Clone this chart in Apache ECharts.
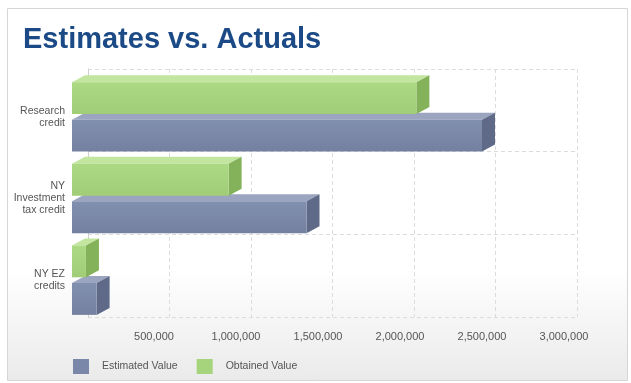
<!DOCTYPE html>
<html>
<head>
<meta charset="utf-8">
<script src="https://cdn.jsdelivr.net/npm/echarts@6.0.0/dist/echarts.min.js"></script>
<style>html,body{margin:0;padding:0;background:#fff}#c{width:631px;height:383px}</style>
</head>
<body>
<div id="c"></div>
<script>
const categories = ['Research\ncredit', 'NY\nInvestment\ntax credit', 'NY EZ\ncredits'];
const estimatedValue = [2500000, 1430000, 150000];
const obtainedValue = [2100000, 955000, 85000];
const seriesNames = ['Estimated Value', 'Obtained Value'];
const xTicks = { min: 0, max: 3000000, interval: 500000 };

const FONT = '"Liberation Sans", Arial, sans-serif';
const DX = 13, DY = -7;

function makeRender(pos, frontTop, frontBottom, top, side) {
  return function (params, api) {
    const cat = api.value(1), val = api.value(0);
    const p0 = api.coord([0, cat]);
    const p1 = api.coord([val, cat]);
    const band = api.size([0, 1])[1];
    const h = band * 0.39, gap = band * 0.035;
    let yt, yb;
    if (pos < 0) { yb = p0[1] - gap; yt = yb - h; } else { yt = p0[1] + gap; yb = yt + h; }
    const x0 = p0[0], x1 = p1[0];
    return {
      type: 'group',
      children: [
        { type: 'polygon', shape: { points: [[x0, yt], [x1, yt], [x1 + DX, yt + DY], [x0 + DX, yt + DY]] }, style: { fill: top } },
        { type: 'polygon', shape: { points: [[x1, yt], [x1 + DX, yt + DY], [x1 + DX, yb + DY], [x1, yb]] }, style: { fill: side } },
        { type: 'rect', shape: { x: x0, y: yt, width: x1 - x0, height: yb - yt },
          style: { fill: new echarts.graphic.LinearGradient(0, 0, 0, 1, [{ offset: 0, color: frontTop }, { offset: 1, color: frontBottom }]) } }
      ]
    };
  };
}

const chart = echarts.init(document.getElementById('c'), null, { renderer: 'canvas' });
chart.setOption({
  animation: false,
  backgroundColor: '#ffffff',
  graphic: [{
    type: 'rect', z: -100, silent: true,
    shape: { x: 7.5, y: 8.5, width: 620, height: 372 },
    style: {
      stroke: '#d6d6d6', lineWidth: 1,
      fill: new echarts.graphic.LinearGradient(0, 0, 0, 1, [
        { offset: 0, color: '#ffffff' }, { offset: 0.7, color: '#ffffff' }, { offset: 1, color: '#eaeaea' }
      ])
    }
  }],
  title: {
    text: 'Estimates vs. Actuals', left: 18, top: 20,
    textStyle: { fontSize: 29, fontWeight: 'bold', color: '#1b4a86', fontFamily: FONT }
  },
  legend: {
    data: seriesNames, left: 73, top: 359, itemWidth: 16, itemHeight: 15, itemGap: 19,
    icon: 'rect', padding: 0,
    textStyle: { fontSize: 10.5, color: '#555', fontFamily: FONT, padding: [0, 0, 0, 8] }
  },
  grid: [
    { left: 72, top: 76, width: 492, height: 245, containLabel: false },
    { left: 88, top: 69, width: 489, height: 248, containLabel: false }
  ],
  xAxis: [
    {
      gridIndex: 0, type: 'value', min: xTicks.min, max: xTicks.max, interval: xTicks.interval,
      axisLine: { show: false }, axisTick: { show: false }, splitLine: { show: false },
      axisLabel: {
        showMinLabel: false, fontSize: 11, color: '#555', fontFamily: FONT, margin: 10,
        formatter: v => v.toLocaleString('en-US')
      }
    },
    {
      gridIndex: 1, type: 'value', min: xTicks.min, max: xTicks.max, interval: xTicks.interval,
      axisLine: { show: false }, axisTick: { show: false }, axisLabel: { show: false },
      splitLine: { show: true, lineStyle: { color: '#dcdcdc', type: [4, 3], width: 1 } }
    }
  ],
  yAxis: [
    {
      gridIndex: 0, type: 'category', data: categories, inverse: true,
      axisLine: { show: false }, axisTick: { show: false }, splitLine: { show: false },
      axisLabel: { fontSize: 10.5, color: '#555', fontFamily: FONT, lineHeight: 12, margin: 7, align: 'right' }
    },
    {
      gridIndex: 1, type: 'category', data: categories, inverse: true,
      axisLine: { show: true, lineStyle: { color: '#cfcfcf' } }, axisTick: { show: false }, axisLabel: { show: false },
      splitLine: { show: true, lineStyle: { color: '#dcdcdc', type: [4, 3], width: 1 } }
    }
  ],
  series: [
    {
      name: seriesNames[0], type: 'custom', xAxisIndex: 0, yAxisIndex: 0, z: 2,
      itemStyle: { color: '#7a87a9' },
      renderItem: makeRender(1, '#8290b0', '#74809f', '#9ba5c0', '#5f6a88'),
      encode: { x: 0, y: 1 },
      data: estimatedValue.map((v, i) => [v, i])
    },
    {
      name: seriesNames[1], type: 'custom', xAxisIndex: 0, yAxisIndex: 0, z: 3,
      itemStyle: { color: '#a6d47c' },
      renderItem: makeRender(-1, '#acd984', '#a0cd76', '#c2e5a0', '#84b25a'),
      encode: { x: 0, y: 1 },
      data: obtainedValue.map((v, i) => [v, i])
    }
  ]
});
</script>
</body>
</html>
